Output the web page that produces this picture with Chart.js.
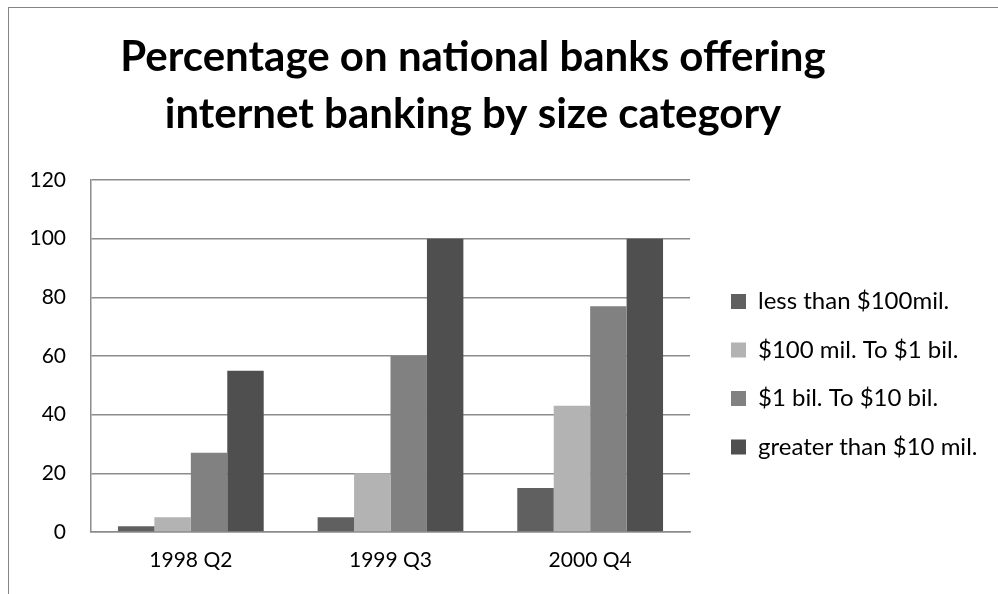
<!DOCTYPE html>
<html>
<head>
  <meta charset="utf-8" />
  <title>Percentage on national banks offering internet banking by size category</title>
  <style>
    body { margin: 0; background: #fff; }
    .frame {
      position: absolute; left: 8px; top: 7px; right: 0; bottom: 0;
      border-left: 1px solid #858585; border-top: 1px solid #858585;
    }
    .box { position: absolute; left: 0; top: 0; width: 989px; height: 586px; }
  </style>
</head>
<body>
  <div class="frame">
    <div class="box"><canvas id="stage"></canvas></div>
  </div>

  <script src="https://cdn.jsdelivr.net/npm/chart.js@4.4.0/dist/chart.umd.min.js"></script>
  <script>
    // 四半期ごとの区分と、資産規模別の割合(%)
    const quarters = ['1998 Q2', '1999 Q3', '2000 Q4'];
    const seriesNames = ['less than $100mil.', '$100 mil. To $1 bil.', '$1 bil. To $10 bil.', 'greater than $10 mil.'];
    const under100mil = [2, 5, 15];
    const mil100to1bil = [5, 20, 43];
    const bil1to10bil = [27, 60, 77];
    const over10mil = [55, 100, 100];
    const yTicks = [0, 20, 40, 60, 80, 100, 120];

    const colors = ['#606060', '#b3b3b3', '#818181', '#4f4f4f'];
    const values = [under100mil, mil100to1bil, bil1to10bil, over10mil];

    const font = 'Lato';

    // タイトルと凡例の位置を少しずらし、凡例は右端まで描けるようにする
    const nudge = {
      id: 'nudge',
      afterLayout(chart) {
        chart.titleBlock.left = 0;
        chart.titleBlock.right = 928;
        const lg = chart.legend;
        lg.left += 16.5;
        lg.top += 36.5;
        lg.right = chart.width;
        lg.width = lg.right - lg.left;
      }
    };

    new Chart(document.getElementById('stage'), {
      type: 'bar',
      data: {
        labels: quarters,
        datasets: seriesNames.map((name, i) => ({
          label: name,
          data: values[i],
          backgroundColor: colors[i],
          borderWidth: 0,
          categoryPercentage: 0.73,
          barPercentage: 1.0
        }))
      },
      options: {
        responsive: true,
        maintainAspectRatio: false,
        animation: false,
        layout: { padding: { left: 21, right: 88, top: 0, bottom: 21 } },
        plugins: {
          title: {
            display: true,
            text: ['Percentage on national banks offering', 'internet banking by size category'],
            color: '#000',
            font: { family: font, size: 42, weight: 'bold', lineHeight: 57 / 42 },
            padding: { top: 21, bottom: 37 }
          },
          legend: {
            position: 'right',
            fullSize: false,
            labels: {
              color: '#000',
              font: { family: font, size: 24 },
              boxWidth: 15,
              boxHeight: 15,
              padding: 24.5
            }
          },
          tooltip: { enabled: false }
        },
        scales: {
          x: {
            afterFit(scale) { scale.height = 41; },
            grid: { display: false, drawTicks: false },
            border: { color: '#8c8c8c', width: 1.5 },
            ticks: { color: '#000', font: { family: font, size: 21 }, padding: 16 }
          },
          y: {
            min: 0,
            max: 120,
            afterBuildTicks(scale) {
              scale.ticks = yTicks.map(v => ({ value: v }));
            },
            afterFit(scale) { scale.width = 61; },
            grid: { color: '#8c8c8c', lineWidth: 1.5, drawTicks: false },
            border: { color: '#8c8c8c', width: 1.5 },
            ticks: { color: '#000', font: { family: font, size: 21 }, padding: 25 }
          }
        }
      },
      plugins: [nudge]
    });
  </script>
</body>
</html>
